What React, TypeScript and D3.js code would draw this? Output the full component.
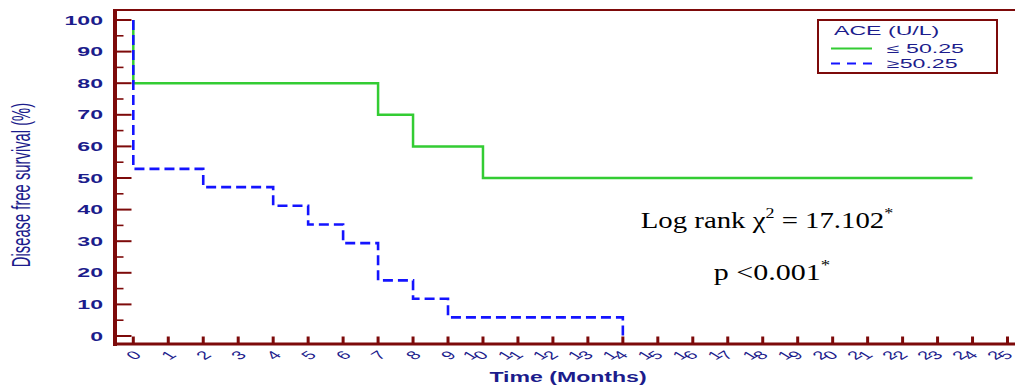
import React from "react";
import * as d3 from "d3";

const monthTicks = d3.range(0, 26);
const yMajorTicks = [0, 10, 20, 30, 40, 50, 60, 70, 80, 90, 100];
const yMinorTicks = [5, 15, 25, 35, 45, 55, 65, 75, 85, 95];

// ACE <= 50.25 (green, solid)
const lowTimes = [0, 0, 7, 8, 10, 24];
const lowSurv = [100, 80, 70, 60, 50, 50];
// ACE > 50.25 (blue, dashed)
const highTimes = [0, 0, 2, 4, 5, 6, 7, 8, 9, 14];
const highSurv = [100, 52.9, 47.1, 41.2, 35.3, 29.4, 17.6, 11.8, 5.9, 0];

const legendTitle = "ACE (U/L)";
const legendLabels = ["≤ 50.25", "≥50.25"];
const yTitle = "Disease free survival (%)";
const xTitle = "Time (Months)";

const W = 1015;
const H = 386;
const AX = "#7d0a0a";
const NAVY = "#1c1c8c";
const SX = 1.85;
const SANS = "Arial, 'Liberation Sans', sans-serif";
const SERIF = "'Liberation Serif', 'Times New Roman', serif";

export default function App() {
  const x = d3.scaleLinear().domain([0, 25]).range([133.3, 1007.5]);
  const y = d3.scaleLinear().domain([0, 100]).range([336, 20]);
  const line = d3
    .line<[number, number]>()
    .x((d) => x(d[0]))
    .y((d) => y(d[1]))
    .curve(d3.curveStepAfter);
  const lowPts = lowTimes.map((t, i) => [t, lowSurv[i]] as [number, number]);
  const highPts = highTimes.map((t, i) => [t, highSurv[i]] as [number, number]);

  const axisX = 115;
  const axisY = 344;

  return (
    <svg
      width={W}
      height={H}
      style={{ position: "absolute", left: 0, top: 0, background: "#fff" }}
    >
      {/* frame */}
      <line x1={axisX - 1} x2={W} y1={10} y2={10} stroke={AX} strokeWidth={2} />
      <line x1={axisX} x2={axisX} y1={9} y2={axisY + 2} stroke={AX} strokeWidth={4} />
      <line x1={axisX - 2} x2={W} y1={axisY} y2={axisY} stroke={AX} strokeWidth={3} />

      {/* y ticks */}
      {yMajorTicks.map((v) => (
        <g key={"ym" + v}>
          <line x1={axisX} x2={131.5} y1={y(v)} y2={y(v)} stroke={AX} strokeWidth={2} />
          <text
            transform={`translate(103,${y(v) + 4.5}) scale(${SX},1)`}
            textAnchor="end"
            fontFamily={SANS}
            fontSize={12.5}
            fontWeight="bold"
            fill={NAVY}
          >
            {v}
          </text>
        </g>
      ))}
      {yMinorTicks.map((v) => (
        <line key={"yn" + v} x1={axisX} x2={123.5} y1={y(v)} y2={y(v)} stroke={AX} strokeWidth={1.6} />
      ))}

      {/* x ticks */}
      {monthTicks.map((m) => {
        const s = String(m);
        const n = s.length;
        return (
          <g key={"xm" + m}>
            <line x1={x(m)} x2={x(m)} y1={336.5} y2={axisY} stroke={AX} strokeWidth={3} />
            {s.split("").map((ch, i) => (
              <text
                key={i}
                transform={`translate(${x(m) + (i - (n - 1) / 2) * 10.5 - (n - 1) * 8},355) scale(1.65,1) rotate(-45)`}
                textAnchor="middle"
                dominantBaseline="central"
                fontFamily={SANS}
                fontSize={12}
                fill={NAVY}
              >
                {ch}
              </text>
            ))}
          </g>
        );
      })}

      {/* axis titles */}
      <text
        transform={`translate(30,185) scale(1.75,1) rotate(-90)`}
        textAnchor="middle"
        fontFamily={SANS}
        fontSize={14.8}
        fill={NAVY}
      >
        {yTitle}
      </text>
      <text
        transform={`translate(568,382) scale(1.65,1)`}
        textAnchor="middle"
        fontFamily={SANS}
        fontSize={14}
        fontWeight="bold"
        fill={NAVY}
      >
        {xTitle}
      </text>

      {/* curves */}
      <path d={line(lowPts) || ""} fill="none" stroke="#33cc33" strokeWidth={2.5} />
      <path
        d={line(highPts) || ""}
        fill="none"
        stroke="#1414ff"
        strokeWidth={2.6}
        strokeDasharray="10,5"
      />

      {/* legend */}
      <rect x={818} y={20} width={179} height={53} fill="#fff" stroke={AX} strokeWidth={2} />
      <text
        transform={`translate(834,35) scale(${SX},1)`}
        fontFamily={SANS}
        fontSize={12.5}
        fill={NAVY}
      >
        {legendTitle}
      </text>
      <line x1={831} x2={872} y1={48.5} y2={48.5} stroke="#33cc33" strokeWidth={2} />
      <line x1={831} x2={872} y1={63.5} y2={63.5} stroke="#1414ff" strokeWidth={2} strokeDasharray="9,7" />
      <text
        transform={`translate(887,53) scale(${SX},1)`}
        fontFamily={SANS}
        fontSize={12.5}
        fill={NAVY}
      >
        {legendLabels[0]}
      </text>
      <text
        transform={`translate(887,68) scale(${SX},1)`}
        fontFamily={SANS}
        fontSize={12.5}
        fill={NAVY}
      >
        {legendLabels[1]}
      </text>

      {/* annotation */}
      <text
        transform="translate(767,228) scale(1.2,1)"
        textAnchor="middle"
        fontFamily={SERIF}
        fontSize={24}
        fill="#000"
      >
        Log rank χ
        <tspan fontSize={15} dy={-10}>2</tspan>
        <tspan dy={10}> = 17.102</tspan>
        <tspan fontSize={15} dy={-10}>*</tspan>
      </text>
      <text
        transform="translate(772,280) scale(1.25,1)"
        textAnchor="middle"
        fontFamily={SERIF}
        fontSize={24}
        fill="#000"
      >
        p &lt;0.001
        <tspan fontSize={15} dy={-10}>*</tspan>
      </text>
    </svg>
  );
}
